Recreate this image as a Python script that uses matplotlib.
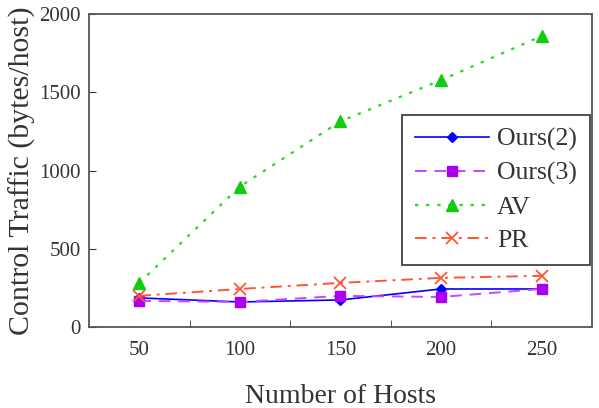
"""Control traffic per host vs. number of hosts."""
import matplotlib
matplotlib.use("Agg")
import matplotlib.pyplot as plt

hosts = [50, 100, 150, 200, 250]
ours2 = [186, 160, 173, 243, 243]
ours3 = [167, 160, 199, 192, 243]
av = [282, 897, 1314, 1577, 1859]
pr = [199, 243, 282, 314, 327]

plt.rcParams["font.family"] = ["Liberation Serif", "DejaVu Serif"]

fig = plt.figure(figsize=(5.99, 4.08), dpi=100)
ax = fig.add_axes([0.1486, 0.1985, 0.8394, 0.7672])

ax.plot(hosts, ours2, color="#0000ff", lw=1.2, marker="D", ms=5, label="Ours(2)")
ax.plot(hosts, ours3, color="#cc44ff", lw=1.4, ls=(0, (6, 4)), marker="s", ms=7,
        mfc="#aa00ee", mec="#aa00ee", label="Ours(3)")
ax.plot(hosts, av, color="#22dd22", lw=1.6, ls=(0, (1.5, 3.5)), marker="^", ms=8,
        mfc="#11cc11", mec="#11cc11", label="AV")
ax.plot(hosts, pr, color="#ff5533", lw=1.4, ls=(0, (6, 3, 1.5, 3)), marker="x", ms=8,
        mew=1.3, label="PR")

ax.set_xlim(25, 275)
ax.set_ylim(0, 2000)
ax.set_xticks(hosts)
ax.set_xticks([75, 125, 175, 225], minor=True)
ax.set_yticks([0, 500, 1000, 1500, 2000])
ax.tick_params(axis="x", which="major", length=0, pad=10, labelsize=15, colors="#333333")
ax.tick_params(axis="x", which="minor", direction="in", length=5, color="#333333")
ax.tick_params(axis="y", direction="in", length=5, pad=6, labelsize=15, colors="#333333")
for s in ax.spines.values():
    s.set_color("#555555")
    s.set_linewidth(1.3)

ax.set_xlabel("Number of Hosts", fontsize=20, color="#333333", labelpad=17)
ax.set_ylabel("Control Traffic (bytes/host)", fontsize=21.5, color="#333333", labelpad=2)

leg = ax.legend(loc="upper right", bbox_to_anchor=(0.996, 0.677), fontsize=18.5,
                fancybox=False, edgecolor="#333333", framealpha=1, borderaxespad=0,
                borderpad=0.5, handlelength=2.9, handletextpad=0.3, labelspacing=0.41)
leg.get_frame().set_linewidth(1.2)
for t in leg.get_texts():
    t.set_color("#333333")

fig.savefig("out.png", dpi=100)
